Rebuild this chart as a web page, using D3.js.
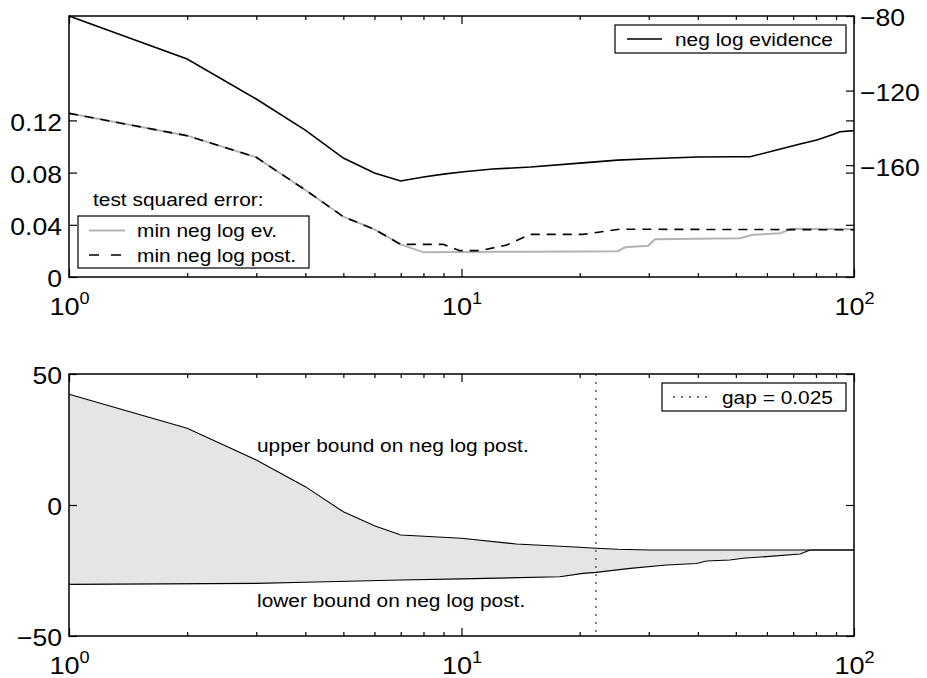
<!DOCTYPE html>
<html>
<head>
<meta charset="utf-8">
<script src="https://cdn.jsdelivr.net/npm/d3@7"></script>
<style>
  body { margin: 0; background: #fff; }
  svg text { font-family: "Liberation Sans", Arial, Helvetica, sans-serif; fill: #000; }
</style>
</head>
<body>
<script>
// ---- data ----
// top panel, right axis: neg log evidence
var evX = [1, 2, 3, 4, 5, 6, 7, 8, 9, 10, 12, 15, 20, 25, 30, 40, 50, 54.3, 63.5, 72.9, 80.4, 88.4, 92.1, 100];
var evY = [-80, -103.1, -124.5, -141.2, -156.2, -164.2, -168.5, -166.4, -164.8, -163.7, -162.1, -161.0, -158.9, -157.3,
           -156.6, -155.6, -155.5, -155.5, -151.9, -148.7, -146.5, -143.5, -142.1, -141.5];

// top panel, left axis: test squared error
var errEvX = [1, 2, 3, 4, 5, 6, 7, 8, 10, 15, 20, 25, 26.1, 29.9, 31.1, 51.2, 55.3, 64.8, 69.4, 100];
var errEvY = [0.1254, 0.1083, 0.0917, 0.0667, 0.0462, 0.0365, 0.025, 0.0189, 0.0192, 0.0194, 0.0196, 0.0198,
              0.0228, 0.024, 0.0289, 0.0297, 0.0324, 0.0335, 0.037, 0.0366];
var errPostX = [1, 2, 3, 4, 5, 6, 7, 8.98, 9.91, 11.15, 13.04, 14.95, 20.4, 25.3, 100];
var errPostY = [0.1254, 0.1083, 0.0917, 0.0667, 0.0462, 0.0365, 0.025, 0.025, 0.0202, 0.0202, 0.0245, 0.0327,
                0.0327, 0.0366, 0.0362];

// bottom panel: bounds on neg log post.
var upX = [1, 2, 3, 4, 5, 6, 7, 10, 13.8, 20, 22, 25, 30, 100];
var upY = [42.3, 29.3, 17.2, 7.0, -2.6, -7.9, -11.45, -12.7, -14.9, -16.1, -16.5, -16.9, -17.2, -17.2];
var loX = [1, 3, 4, 7, 10, 17.8, 20.4, 22, 26.9, 33.3, 39.7, 42.1, 48.3, 52.1, 59.9, 72.9, 77.3, 100];
var loY = [-30.3, -29.9, -29.5, -28.6, -28.2, -27.4, -26.1, -25.7, -24.2, -22.9, -22.3, -21.4, -21.0, -20.3,
           -19.7, -18.7, -17.2, -17.2];
var gapX = 22;

// tick labels
var xMajor = [1, 10, 100];
var xMinor = [2, 3, 4, 5, 6, 7, 8, 9, 20, 30, 40, 50, 60, 70, 80, 90];
var errTicks = [0, 0.04, 0.08, 0.12];
var evTicks = [-80, -120, -160];
var boundTicks = [-50, 0, 50];

// ---- layout ----
var SX = 1.13; // text is drawn a little wider than the font
var width = 785;
var top1 = { left: 69, top: 16, height: 261 };
var top2 = { left: 69, top: 374, height: 262 };

var svg = d3.select("body").append("svg")
    .attr("width", 927)
    .attr("height", 678);

var x = d3.scaleLog().domain([1, 100]).range([0, width]);

function label(g, px, py, str, size, anchor) {
    return g.append("text")
        .attr("transform", "translate(" + px + "," + py + ") scale(" + SX + ",1)")
        .attr("font-size", size + "px")
        .attr("text-anchor", anchor || "start")
        .text(str);
}

// stretch axis labels the same way
function stretchTicks(g) {
    g.selectAll(".tick text").each(function () {
        var t = d3.select(this);
        t.attr("x", (+t.attr("x") || 0) / SX)
            .attr("transform", "scale(" + SX + ",1)");
    });
}

function styleAxis(g) {
    g.select(".domain").remove();
    g.selectAll(".tick line").attr("stroke", "#000").attr("stroke-width", 1.2);
}

// log x axis with 10^n labels, ticks pointing inside
function drawX(g, h) {
    var bottomMajor = g.append("g")
        .attr("transform", "translate(0," + h + ")")
        .call(d3.axisBottom(x).tickValues(xMajor).tickSize(-8).tickFormat(function () { return ""; }));
    styleAxis(bottomMajor);
    bottomMajor.selectAll(".tick text").remove();
    var t = bottomMajor.selectAll(".tick").append("text")
        .attr("transform", "translate(0,38) scale(" + SX + ",1)")
        .attr("text-anchor", "middle");
    t.append("tspan").attr("font-size", "24px").text("10");
    t.append("tspan").attr("font-size", "16px").attr("dy", -11)
        .text(function (d) { return Math.round(Math.log10(d)); });

    var bottomMinor = g.append("g")
        .attr("transform", "translate(0," + h + ")")
        .call(d3.axisBottom(x).tickValues(xMinor).tickSize(-4).tickFormat(""));
    styleAxis(bottomMinor);

    var topMajor = g.append("g")
        .call(d3.axisTop(x).tickValues(xMajor).tickSize(-8).tickFormat(""));
    styleAxis(topMajor);
    var topMinor = g.append("g")
        .call(d3.axisTop(x).tickValues(xMinor).tickSize(-4).tickFormat(""));
    styleAxis(topMinor);
}

// ———————— top panel ———————— //
var g1 = svg.append("g")
    .attr("transform", "translate(" + top1.left + "," + top1.top + ")");

var yErr = d3.scaleLinear().domain([0, 0.2]).range([top1.height, 0]);
var yEv = d3.scaleLinear().domain([-220, -80]).range([top1.height, 0]);

var errLine = d3.line()
    .x(function (d) { return x(d[0]); })
    .y(function (d) { return yErr(d[1]); });
var evLine = d3.line()
    .x(function (d) { return x(d[0]); })
    .y(function (d) { return yEv(d[1]); });

g1.append("path")
    .attr("d", errLine(d3.zip(errEvX, errEvY)))
    .attr("fill", "none")
    .attr("stroke", "#b3b3b3")
    .attr("stroke-width", 2);

g1.append("path")
    .attr("d", errLine(d3.zip(errPostX, errPostY)))
    .attr("fill", "none")
    .attr("stroke", "#000")
    .attr("stroke-width", 1.6)
    .attr("stroke-dasharray", "9,7");

g1.append("path")
    .attr("d", evLine(d3.zip(evX, evY)))
    .attr("fill", "none")
    .attr("stroke", "#000")
    .attr("stroke-width", 1.6);

// left axis
var yL1 = g1.append("g")
    .call(d3.axisLeft(yErr).tickValues(errTicks).tickSize(-8).tickPadding(7)
        .tickFormat(function (d) { return d === 0 ? "0" : d3.format(".2f")(d); }));
styleAxis(yL1);
yL1.selectAll(".tick text").attr("font-size", "23.5px").attr("dy", "0.42em");
stretchTicks(yL1);

// mirror of left ticks on the right edge
var yL1m = g1.append("g")
    .attr("transform", "translate(" + width + ",0)")
    .call(d3.axisRight(yErr).tickValues(errTicks).tickSize(-8).tickFormat(""));
styleAxis(yL1m);

// right axis
var yR1 = g1.append("g")
    .attr("transform", "translate(" + width + ",0)")
    .call(d3.axisRight(yEv).tickValues(evTicks).tickSize(-8).tickPadding(6).tickFormat(d3.format("d")));
styleAxis(yR1);
yR1.selectAll(".tick text").attr("font-size", "23.5px").attr("dy", "0.42em");
stretchTicks(yR1);

drawX(g1, top1.height);

g1.append("rect")
    .attr("width", width)
    .attr("height", top1.height)
    .attr("fill", "none")
    .attr("stroke", "#000")
    .attr("stroke-width", 1.5);

// legend: neg log evidence
var lg1 = g1.append("g").attr("transform", "translate(546,9)");
lg1.append("rect").attr("width", 231).attr("height", 28)
    .attr("fill", "#fff").attr("stroke", "#000").attr("stroke-width", 1.2);
lg1.append("line").attr("x1", 12).attr("x2", 47).attr("y1", 14).attr("y2", 14)
    .attr("stroke", "#000").attr("stroke-width", 1.4);
label(lg1, 60, 20.5, "neg log evidence", 18.5);

// legend: test squared error
label(g1, 24, 190, "test squared error:", 18.5);
var lg2 = g1.append("g").attr("transform", "translate(9,200)");
lg2.append("rect").attr("width", 231).attr("height", 52)
    .attr("fill", "#fff").attr("stroke", "#000").attr("stroke-width", 1.2);
lg2.append("line").attr("x1", 11).attr("x2", 47).attr("y1", 14.5).attr("y2", 14.5)
    .attr("stroke", "#b3b3b3").attr("stroke-width", 2);
lg2.append("line").attr("x1", 11).attr("x2", 47).attr("y1", 39).attr("y2", 39)
    .attr("stroke", "#000").attr("stroke-width", 1.4).attr("stroke-dasharray", "10,12");
label(lg2, 59, 21, "min neg log ev.", 18.5);
label(lg2, 59, 45.5, "min neg log post.", 18.5);

// ———————— bottom panel ———————— //
var g2 = svg.append("g")
    .attr("transform", "translate(" + top2.left + "," + top2.top + ")");

var yB = d3.scaleLinear().domain([-50, 50]).range([top2.height, 0]);

var bLine = d3.line()
    .x(function (d) { return x(d[0]); })
    .y(function (d) { return yB(d[1]); });

var upPts = d3.zip(upX, upY);
var loPts = d3.zip(loX, loY);

g2.append("path")
    .attr("d", bLine(upPts.concat(loPts.slice().reverse())) + "Z")
    .attr("fill", "#e5e5e5")
    .attr("stroke", "none");

g2.append("path")
    .attr("d", bLine(upPts))
    .attr("fill", "none")
    .attr("stroke", "#000")
    .attr("stroke-width", 1.1);
g2.append("path")
    .attr("d", bLine(loPts))
    .attr("fill", "none")
    .attr("stroke", "#000")
    .attr("stroke-width", 1.1);

// gap marker
g2.append("line")
    .attr("x1", x(gapX)).attr("x2", x(gapX))
    .attr("y1", 0).attr("y2", top2.height)
    .attr("stroke", "#444")
    .attr("stroke-width", 1.3)
    .attr("stroke-dasharray", "2,6");

var yL2 = g2.append("g")
    .call(d3.axisLeft(yB).tickValues(boundTicks).tickSize(-8).tickPadding(7).tickFormat(d3.format("d")));
styleAxis(yL2);
yL2.selectAll(".tick text").attr("font-size", "23.5px").attr("dy", "0.42em");
stretchTicks(yL2);

var yL2m = g2.append("g")
    .attr("transform", "translate(" + width + ",0)")
    .call(d3.axisRight(yB).tickValues(boundTicks).tickSize(-8).tickFormat(""));
styleAxis(yL2m);

drawX(g2, top2.height);

g2.append("rect")
    .attr("width", width)
    .attr("height", top2.height)
    .attr("fill", "none")
    .attr("stroke", "#000")
    .attr("stroke-width", 1.5);

label(g2, 188, 78, "upper bound on neg log post.", 18.5);
label(g2, 188, 233, "lower bound on neg log post.", 18.5);

// legend: gap
var lg3 = g2.append("g").attr("transform", "translate(593,9)");
lg3.append("rect").attr("width", 184).attr("height", 28)
    .attr("fill", "#fff").attr("stroke", "#000").attr("stroke-width", 1.2);
lg3.append("line").attr("x1", 11).attr("x2", 46).attr("y1", 14).attr("y2", 14)
    .attr("stroke", "#444").attr("stroke-width", 1.3).attr("stroke-dasharray", "2,6");
label(lg3, 60, 20.5, "gap = 0.025", 18.5);
</script>
</body>
</html>
